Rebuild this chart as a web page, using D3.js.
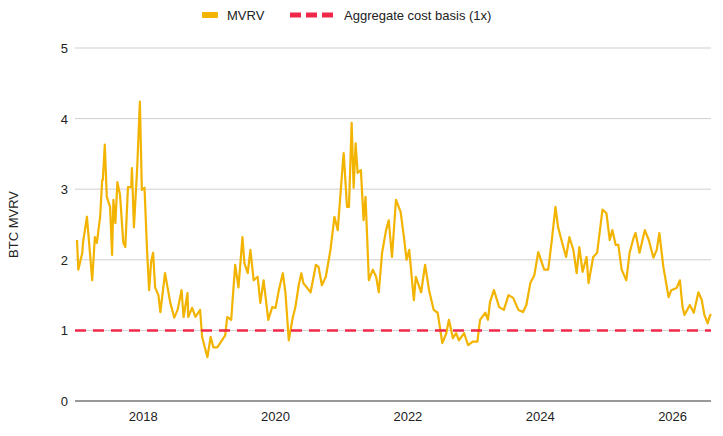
<!DOCTYPE html>
<html lang="en">
<head>
<meta charset="UTF-8">
<title>BTC MVRV</title>
<script src="https://d3js.org/d3.v7.min.js"></script>
<style>
  body { margin: 0; background: #fff; font-family: "Liberation Sans", Arial, sans-serif; }
  .grid line { stroke: #cfcfcf; }
  text { fill: #222; font-size: 13px; }
</style>
</head>
<body>
<svg id="chart" width="723" height="436"></svg>
<script>
// decimal years and MVRV values
const dates = [2017.00,2017.02,2017.08,2017.09,2017.15,2017.23,2017.27,2017.30,2017.35,2017.38,2017.39,2017.42,2017.45,2017.50,2017.53,2017.55,2017.58,2017.61,2017.65,2017.70,2017.73,2017.77,2017.82,2017.83,2017.86,2017.91,2017.95,2017.98,2018.02,2018.06,2018.09,2018.12,2018.15,2018.18,2018.23,2018.26,2018.33,2018.41,2018.47,2018.52,2018.58,2018.61,2018.67,2018.68,2018.74,2018.79,2018.86,2018.89,2018.97,2019.02,2019.06,2019.12,2019.24,2019.27,2019.33,2019.39,2019.44,2019.50,2019.53,2019.58,2019.62,2019.67,2019.73,2019.77,2019.82,2019.89,2019.95,2020.00,2020.05,2020.11,2020.15,2020.20,2020.26,2020.30,2020.35,2020.39,2020.42,2020.53,2020.61,2020.65,2020.70,2020.76,2020.83,2020.89,2020.94,2021.02,2021.03,2021.08,2021.11,2021.15,2021.18,2021.21,2021.24,2021.29,2021.33,2021.36,2021.41,2021.47,2021.52,2021.56,2021.61,2021.67,2021.71,2021.76,2021.82,2021.89,2021.94,2021.98,2022.02,2022.09,2022.12,2022.20,2022.26,2022.32,2022.39,2022.45,2022.52,2022.58,2022.62,2022.68,2022.73,2022.77,2022.85,2022.91,2022.98,2023.05,2023.09,2023.17,2023.21,2023.24,2023.30,2023.38,2023.45,2023.52,2023.59,2023.67,2023.74,2023.79,2023.85,2023.91,2023.97,2024.02,2024.06,2024.12,2024.17,2024.23,2024.27,2024.32,2024.39,2024.44,2024.50,2024.55,2024.59,2024.64,2024.70,2024.73,2024.80,2024.86,2024.94,2025.00,2025.05,2025.09,2025.14,2025.18,2025.23,2025.30,2025.35,2025.41,2025.44,2025.50,2025.58,2025.64,2025.71,2025.76,2025.80,2025.86,2025.94,2025.98,2026.06,2026.11,2026.15,2026.18,2026.26,2026.32,2026.39,2026.44,2026.48,2026.53,2026.56,2026.58];
const mvrv = [2.28,1.86,2.10,2.24,2.61,1.71,2.32,2.24,2.61,3.13,3.13,3.63,2.89,2.75,2.07,2.85,2.52,3.10,2.92,2.24,2.18,3.03,3.03,3.30,2.46,3.31,4.24,2.99,3.02,2.10,1.57,1.97,2.10,1.61,1.50,1.26,1.81,1.39,1.18,1.29,1.57,1.19,1.53,1.19,1.32,1.19,1.29,0.91,0.62,0.91,0.76,0.76,0.93,1.19,1.15,1.93,1.61,2.32,1.95,1.81,2.14,1.71,1.76,1.39,1.71,1.15,1.33,1.32,1.57,1.81,1.53,0.86,1.18,1.33,1.64,1.81,1.67,1.54,1.93,1.90,1.64,1.76,2.14,2.61,2.42,3.41,3.51,2.75,2.75,3.94,3.02,3.65,3.23,3.27,2.56,2.89,1.71,1.86,1.76,1.54,2.10,2.42,2.56,2.04,2.85,2.68,2.32,2.00,2.14,1.43,1.76,1.54,1.93,1.57,1.29,1.25,0.82,0.96,1.15,0.89,0.96,0.86,0.96,0.79,0.84,0.84,1.15,1.25,1.15,1.40,1.57,1.33,1.29,1.50,1.46,1.29,1.26,1.36,1.67,1.78,2.11,1.97,1.86,1.86,2.24,2.75,2.46,2.28,2.04,2.32,2.14,1.81,2.18,1.83,2.04,1.67,2.04,2.10,2.71,2.66,2.28,2.42,2.21,2.21,1.86,1.71,2.10,2.31,2.38,2.10,2.42,2.28,2.03,2.14,2.38,1.90,1.47,1.57,1.60,1.71,1.33,1.22,1.36,1.25,1.54,1.43,1.22,1.10,1.20,1.23];
const yTicks = [0, 1, 2, 3, 4, 5];
const xTicks = [2018, 2020, 2022, 2024, 2026];
const costBasis = 1;

const svg = d3.select("#chart");
const mLeft = 75, mRight = 711, mTop = 48, mBottom = 401;
const x = d3.scaleLinear().domain([2017, 2026.58]).range([mLeft + 2, mRight]);
const y = d3.scaleLinear().domain([0, 5]).range([mBottom, mTop]);

svg.append("g").attr("class", "grid")
  .selectAll("line").data(yTicks).join("line")
  .attr("x1", mLeft).attr("x2", mRight)
  .attr("y1", d => y(d)).attr("y2", d => y(d))
  .style("stroke", d => d === 0 ? "#333" : null);

svg.append("g").selectAll("text").data(yTicks).join("text")
  .attr("x", mLeft - 7).attr("y", d => y(d) + 5)
  .attr("text-anchor", "end").text(d => d);

svg.append("g").selectAll("text").data(xTicks).join("text")
  .attr("x", d => x(d)).attr("y", mBottom + 20)
  .attr("text-anchor", "middle").text(d => d);

svg.append("text")
  .attr("transform", `translate(18,${(mTop + mBottom) / 2}) rotate(-90)`)
  .attr("text-anchor", "middle").text("BTC MVRV");

const pts = d3.zip(dates, mvrv);
svg.append("path").datum(pts)
  .attr("fill", "none").attr("stroke", "#F2B301").attr("stroke-width", 2.2)
  .attr("stroke-linejoin", "round")
  .attr("d", d3.line().x(d => x(d[0])).y(d => y(d[1])));

svg.append("line")
  .attr("x1", mLeft).attr("x2", mRight)
  .attr("y1", y(costBasis)).attr("y2", y(costBasis))
  .attr("stroke", "#F0284A").attr("stroke-width", 2.5)
  .attr("stroke-dasharray", "11,7");

// legend
const lg = svg.append("g").attr("transform", "translate(0,15)");
lg.append("rect").attr("x", 202).attr("y", -3).attr("width", 16).attr("height", 6).attr("rx", 1).attr("fill", "#F2B301");
lg.append("text").attr("x", 227).attr("y", 5).text("MVRV");
lg.append("line").attr("x1", 290).attr("x2", 333).attr("y1", 0).attr("y2", 0)
  .attr("stroke", "#F0284A").attr("stroke-width", 5).attr("stroke-dasharray", "11,5");
lg.append("text").attr("x", 344).attr("y", 5).text("Aggregate cost basis (1x)");
</script>
</body>
</html>
